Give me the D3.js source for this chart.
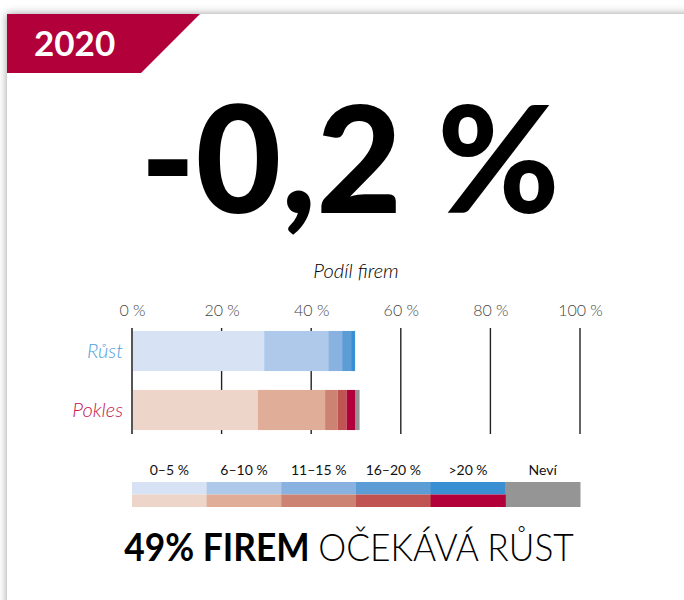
<!DOCTYPE html>
<head>
  <meta charset="utf-8">
  <script src="https://d3js.org/d3.v7.min.js"></script>
  <style>
    body { margin: 0; background: #fff; }
    svg { display: block; font-family: Lato, "Open Sans", sans-serif; }
  </style>
</head>
<body>
<svg width="684" height="600"></svg>
<script>
// data
var year = "2020";
var headline = "-0,2 %";
var categories = ["Růst", "Pokles"];
var bands = ["0–5 %", "6–10 %", "11–15 %", "16–20 %", ">20 %", "Neví"];
var rustValues = [29.5, 14.3, 3.1, 2.0, 0.9, 0];
var poklesValues = [28.1, 15.0, 2.8, 2.0, 2.0, 0.9];
var ticks = [0, 20, 40, 60, 80, 100];
var blues = ["#d7e2f4", "#afc9ea", "#8ab2e0", "#5c9dd6", "#3a8fd3", "#959595"];
var reds = ["#eed5ca", "#dfad98", "#cd8372", "#bf5452", "#b2003b", "#959595"];
var catColors = ["#4f9fdc", "#c2164f"];

var svg = d3.select("svg");

// card with soft shadow
var defs = svg.append("defs");
var f = defs.append("filter").attr("id", "shadow")
  .attr("x", "-10%").attr("y", "-10%").attr("width", "120%").attr("height", "120%");
f.append("feDropShadow").attr("dx", 0).attr("dy", 0).attr("stdDeviation", 4.5)
  .attr("flood-color", "#000").attr("flood-opacity", 0.4);

svg.append("rect").attr("x", 7).attr("y", 14).attr("width", 720).attr("height", 640)
  .attr("fill", "#fff").attr("filter", "url(#shadow)");

// year banner
svg.append("path").attr("d", "M7,14 L200,14 L141,73 L7,73 Z").attr("fill", "#b2003b");
svg.append("text").attr("x", 34).attr("y", 56).text(year)
  .attr("fill", "#fff").attr("font-weight", 700).attr("font-size", 35);

// big number
svg.append("text").attr("x", 350).attr("y", 213).attr("text-anchor", "middle")
  .attr("font-weight", 900).attr("font-size", 148).attr("fill", "#000")
  .text(headline);

var x = d3.scaleLinear().domain([0, 100]).range([132, 580]);
var y = d3.scaleBand().domain(categories).range([328, 433]).paddingInner(0.32).paddingOuter(0.05);

svg.append("text").attr("x", x(50)).attr("y", 278).attr("text-anchor", "middle")
  .attr("font-style", "italic").attr("font-weight", 300).attr("font-size", 20)
  .attr("fill", "#000").text("Podíl firem");

// axis
var axis = svg.append("g").attr("transform", "translate(0,328)")
  .call(d3.axisTop(x).tickValues(ticks).tickFormat(function(d) { return d + " %"; }).tickSize(0).tickPadding(12));
axis.select(".domain").remove();
axis.selectAll("text").attr("font-size", 16).attr("fill", "#444").attr("font-family", "Lato, sans-serif").attr("font-weight", 300);

svg.append("g").selectAll("line").data(ticks).join("line")
  .attr("x1", function(d) { return x(d); }).attr("x2", function(d) { return x(d); })
  .attr("y1", 328).attr("y2", 434)
  .attr("stroke", function(d) { return d === 0 ? "#555" : "#222"; })
  .attr("stroke-width", function(d) { return d === 0 ? 2 : 1.4; });

// stacked bars
function stack(values, colors) {
  var acc = 0;
  return values.map(function(v, i) {
    var s = { x0: acc, x1: acc + v, color: colors[i] };
    acc += v;
    return s;
  });
}
var rows = [stack(rustValues, blues), stack(poklesValues, reds)];

rows.forEach(function(segs, r) {
  svg.append("g").selectAll("rect").data(segs.filter(function(s) { return s.x1 > s.x0; })).join("rect")
    .attr("x", function(d) { return x(d.x0) + (d.x0 === 0 ? 1 : 0); })
    .attr("width", function(d) { return x(d.x1) - x(d.x0) - (d.x0 === 0 ? 1 : 0); })
    .attr("y", y(categories[r])).attr("height", y.bandwidth())
    .attr("fill", function(d) { return d.color; });
  svg.append("text").attr("x", 123).attr("y", y(categories[r]) + y.bandwidth() / 2 + 7)
    .attr("text-anchor", "end").attr("font-style", "italic").attr("font-weight", 300)
    .attr("font-size", 20).attr("fill", catColors[r]).text(categories[r]);
});

// legend
var lx = d3.scaleBand().domain(bands).range([132, 580]);
var leg = svg.append("g");
leg.selectAll("text").data(bands).join("text")
  .attr("x", function(d) { return lx(d) + lx.bandwidth() / 2; }).attr("y", 475)
  .attr("text-anchor", "middle").attr("font-size", 14).attr("fill", "#111").text(function(d) { return d; });
leg.selectAll("rect.b").data(bands).join("rect").attr("class", "b")
  .attr("x", function(d) { return lx(d); }).attr("width", lx.bandwidth() + 0.5)
  .attr("y", 482).attr("height", function(d, i) { return i === 5 ? 25 : 12.5; })
  .attr("fill", function(d, i) { return blues[i]; });
leg.selectAll("rect.r").data(bands.slice(0, 5)).join("rect").attr("class", "r")
  .attr("x", function(d) { return lx(d); }).attr("width", lx.bandwidth() + 0.5)
  .attr("y", 494.5).attr("height", 12.5)
  .attr("fill", function(d, i) { return reds[i]; });

// bottom headline (squeezed a little to match the narrower original face)
var bt = svg.append("text").attr("x", 0).attr("y", 0).attr("text-anchor", "middle")
  .attr("font-size", 38).attr("fill", "#000")
  .attr("transform", "translate(349,561) scale(0.93,1)");
bt.append("tspan").attr("font-weight", 700).text("49% FIREM ");
bt.append("tspan").attr("font-weight", 300).text("OČEKÁVÁ RŮST");
</script>
</body>
</html>
